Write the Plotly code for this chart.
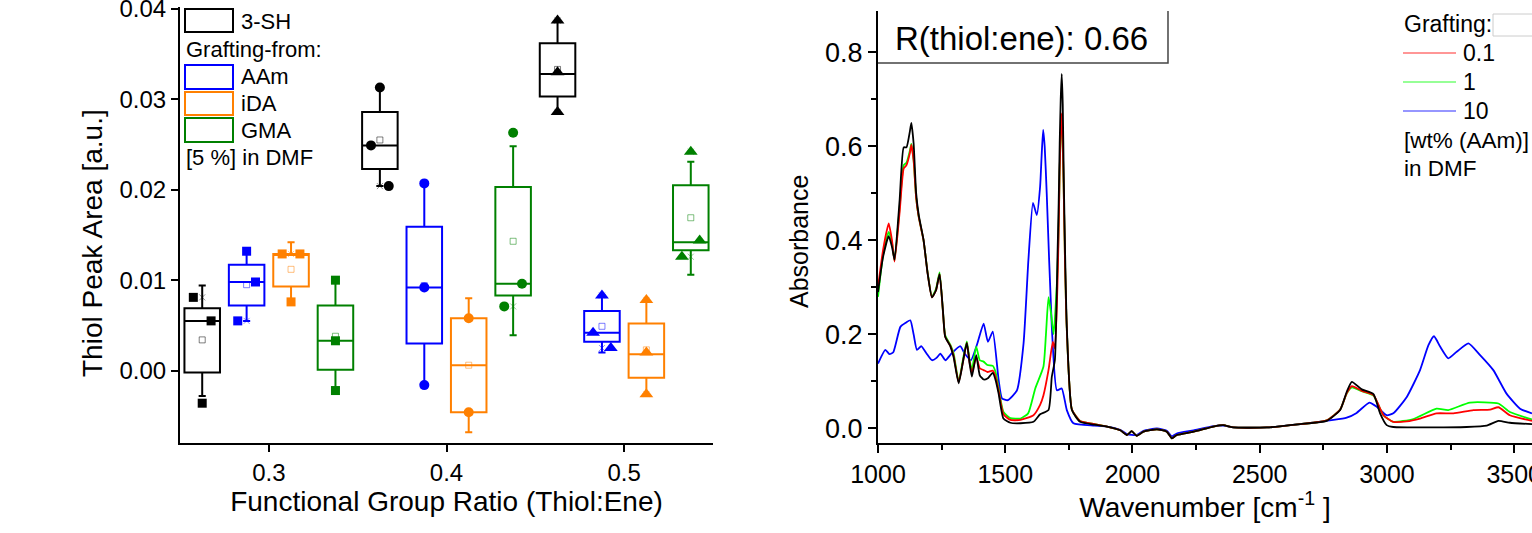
import plotly.graph_objects as go

W, H = 1532, 533

# ---------------- left panel: thiol peak area box plots ----------------
ratios = [0.3, 0.4, 0.5]
box_names = ["3-SH", "AAm", "iDA", "GMA"]

sh_q1 = [-0.0002, 0.0223, 0.0303]
sh_med = [0.0055, 0.0249, 0.0328]
sh_q3 = [0.0069, 0.0286, 0.0362]
sh_lo = [-0.0028, 0.0204, 0.0286]
sh_hi = [0.0094, 0.0313, 0.0387]
sh_mean = [0.0034, 0.0255, 0.0333]
sh_pts = [[0.0081, 0.0055, -0.0036], [0.0313, 0.0249, 0.0204], [0.0387, 0.0330, 0.0286]]

aam_q1 = [0.0072, 0.0030, 0.0032]
aam_med = [0.0098, 0.0092, 0.0042]
aam_q3 = [0.0117, 0.0159, 0.0066]
aam_lo = [0.0055, -0.0016, 0.0020]
aam_hi = [0.0132, 0.0207, 0.0083]
aam_mean = [0.0095, 0.0094, 0.0049]
aam_pts = [[0.0132, 0.0098, 0.0055], [0.0207, 0.0092, -0.0016], [0.0083, 0.0042, 0.0025]]

ida_q1 = [0.0093, -0.0046, -0.0008]
ida_med = [0.0129, 0.0006, 0.0018]
ida_q3 = [0.0129, 0.0058, 0.0052]
ida_lo = [0.0076, -0.0068, -0.0026]
ida_hi = [0.0142, 0.0080, 0.0078]
ida_mean = [0.0112, 0.0006, 0.0023]
ida_pts = [[0.0129, 0.0129, 0.0076], [0.0058, -0.0046], [0.0078, 0.0020, -0.0026]]

gma_q1 = [0.0001, 0.0083, 0.0133]
gma_med = [0.0033, 0.0096, 0.0142]
gma_q3 = [0.0072, 0.0203, 0.0205]
gma_lo = [-0.0022, 0.0039, 0.0106]
gma_hi = [0.0100, 0.0248, 0.0231]
gma_mean = [0.0038, 0.0143, 0.0169]
gma_pts = [[0.0100, 0.0033, -0.0022], [0.0263, 0.0096, 0.0071], [0.0242, 0.0144, 0.0126]]

# ---------------- right panel: FTIR spectra ----------------
black_wn = [1000, 1020, 1042, 1055, 1065, 1085, 1101, 1112, 1125, 1131, 1140, 1150, 1160, 1179, 1195,
            1212, 1228, 1242, 1255, 1264, 1284, 1297, 1317, 1335, 1349, 1360, 1369, 1386, 1400, 1415,
            1430, 1451, 1462, 1474, 1493, 1520, 1560, 1611, 1637, 1670, 1683, 1695, 1705, 1710, 1714, 1718, 1722,
            1726, 1730, 1735, 1742, 1762, 1794, 1850, 1900, 1952, 1978, 1997, 2017, 2043, 2096, 2135, 2155, 2174,
            2240, 2318, 2357, 2397, 2528, 2659, 2763, 2816, 2842, 2862, 2901, 2947, 2973, 2999, 3025,
            3182, 3313, 3392, 3438, 3483, 3570]
black_abs = [0.290, 0.365, 0.409, 0.386, 0.359, 0.486, 0.598, 0.598, 0.631, 0.650, 0.606, 0.500, 0.454, 0.401, 0.330,
             0.279, 0.294, 0.328, 0.252, 0.195, 0.175, 0.152, 0.096, 0.145, 0.182, 0.138, 0.110, 0.156, 0.113, 0.104,
             0.106, 0.118, 0.103, 0.074, 0.021, 0.012, 0.011, 0.014, 0.030, 0.039, 0.110, 0.145, 0.358, 0.480, 0.606, 0.700, 0.754,
             0.690, 0.535, 0.380, 0.216, 0.039, 0.014, 0.008, 0.004, -0.004, -0.014, -0.006, -0.016, -0.007, -0.002, -0.007, -0.021, -0.014,
             -0.007, 0.004, 0.007, 0.002, 0.002, 0.009, 0.016, 0.039, 0.078, 0.099, 0.083, 0.073, 0.032, 0.007, 0.003,
             0.002, 0.003, 0.006, 0.016, 0.012, 0.009]

red_wn = [1000, 1020, 1042, 1055, 1065, 1085, 1101, 1112, 1125, 1131, 1140, 1150, 1160, 1179, 1195,
          1212, 1228, 1242, 1255, 1264, 1284, 1297, 1317, 1335, 1349, 1360, 1369, 1386, 1400, 1415,
          1430, 1451, 1462, 1474, 1493, 1520, 1560, 1611, 1637, 1650, 1670, 1687, 1695, 1705, 1710, 1714, 1718, 1722,
          1726, 1730, 1735, 1742, 1762, 1794, 1850, 1900, 1952, 1978, 1997, 2017, 2043, 2096, 2135, 2155, 2174,
          2240, 2318, 2357, 2397, 2528, 2659, 2763, 2816, 2842, 2862, 2901, 2947, 2986, 3025, 3078,
          3130, 3195, 3261, 3340, 3405, 3438, 3483, 3570]
red_abs = [0.300, 0.380, 0.436, 0.400, 0.355, 0.460, 0.553, 0.560, 0.585, 0.603, 0.570, 0.490, 0.450, 0.400, 0.330,
           0.279, 0.294, 0.328, 0.250, 0.195, 0.176, 0.155, 0.098, 0.145, 0.182, 0.140, 0.118, 0.152, 0.128, 0.124,
           0.120, 0.123, 0.110, 0.080, 0.030, 0.018, 0.018, 0.028, 0.050, 0.070, 0.124, 0.184, 0.170, 0.300, 0.420, 0.550, 0.630, 0.670,
           0.610, 0.500, 0.350, 0.210, 0.040, 0.016, 0.009, 0.004, -0.004, -0.014, -0.006, -0.016, -0.007, -0.002, -0.007, -0.021, -0.014,
           -0.007, 0.004, 0.007, 0.002, 0.002, 0.009, 0.017, 0.040, 0.075, 0.090, 0.080, 0.071, 0.028, 0.014, 0.015,
           0.021, 0.032, 0.032, 0.039, 0.040, 0.045, 0.028, 0.016]

green_wn = [1000, 1020, 1042, 1055, 1065, 1085, 1101, 1112, 1125, 1131, 1140, 1150, 1160, 1179, 1195,
            1212, 1228, 1242, 1255, 1264, 1284, 1297, 1317, 1335, 1349, 1360, 1369, 1386, 1400, 1415,
            1430, 1451, 1462, 1474, 1493, 1520, 1560, 1590, 1618, 1650, 1660, 1670, 1680, 1690, 1705, 1710, 1714, 1718, 1722,
            1726, 1730, 1735, 1742, 1762, 1794, 1850, 1900, 1952, 1978, 1997, 2017, 2043, 2096, 2135, 2155, 2174,
            2240, 2318, 2357, 2397, 2528, 2659, 2763, 2816, 2842, 2862, 2901, 2947, 2986, 3025, 3104,
            3195, 3241, 3326, 3438, 3483, 3570]
green_abs = [0.280, 0.370, 0.418, 0.395, 0.357, 0.470, 0.560, 0.565, 0.590, 0.605, 0.570, 0.490, 0.450, 0.400, 0.332,
             0.280, 0.297, 0.332, 0.250, 0.198, 0.178, 0.160, 0.100, 0.150, 0.185, 0.145, 0.125, 0.174, 0.145, 0.142,
             0.135, 0.133, 0.120, 0.085, 0.035, 0.022, 0.021, 0.032, 0.085, 0.131, 0.200, 0.279, 0.245, 0.200, 0.330, 0.430, 0.550, 0.625, 0.665,
             0.605, 0.500, 0.350, 0.210, 0.040, 0.016, 0.009, 0.004, -0.004, -0.014, -0.006, -0.016, -0.007, -0.002, -0.007, -0.021, -0.014,
             -0.007, 0.004, 0.007, 0.002, 0.002, 0.009, 0.017, 0.040, 0.074, 0.087, 0.079, 0.070, 0.028, 0.014, 0.020,
             0.042, 0.039, 0.055, 0.053, 0.035, 0.019]

blue_wn = [1000, 1029, 1045, 1060, 1088, 1110, 1127, 1140, 1153, 1170, 1190, 1212, 1230, 1245, 1265,
           1290, 1323, 1340, 1365, 1390, 1415, 1432, 1451, 1474, 1487, 1510, 1546, 1572, 1591, 1609,
           1624, 1637, 1643, 1649, 1655, 1663, 1683, 1703, 1722, 1742, 1768, 1850, 1900, 1952, 1978, 2017, 2043,
           2096, 2135, 2155, 2174, 2240, 2318, 2357, 2397, 2528, 2659, 2790, 2842, 2881, 2931, 2960,
           2999, 3025, 3078, 3130, 3163, 3185, 3209, 3241, 3274, 3320, 3366, 3418, 3470, 3523, 3570]
blue_abs = [0.138, 0.167, 0.158, 0.162, 0.216, 0.225, 0.230, 0.200, 0.167, 0.175, 0.160, 0.145, 0.150, 0.159, 0.145,
            0.160, 0.175, 0.160, 0.145, 0.180, 0.223, 0.184, 0.206, 0.103, 0.064, 0.060, 0.081, 0.181, 0.358, 0.480,
            0.454, 0.514, 0.580, 0.635, 0.600, 0.500, 0.216, 0.081, 0.085, 0.039, 0.011, 0.006, 0.004, -0.003, -0.012, -0.014, -0.005,
            0.000, -0.005, -0.017, -0.011, -0.004, 0.005, 0.006, 0.002, 0.002, 0.009, 0.018, 0.023, 0.033, 0.055, 0.046,
            0.028, 0.032, 0.067, 0.124, 0.177, 0.196, 0.174, 0.149, 0.163, 0.181, 0.156, 0.124, 0.074, 0.042, 0.032]

spectra_labels = ["0.1", "1", "10"]
annotation_text = "R(thiol:ene): 0.66"

# ---------------- styling / layout constants ----------------
FONT = "Liberation Sans, Arial, sans-serif"
box_colors = {"3-SH": "#000000", "AAm": "#0000FF", "iDA": "#FF8000", "GMA": "#008000"}
box_offsets = {"3-SH": -0.0375, "AAm": -0.0125, "iDA": 0.0125, "GMA": 0.0375}
ratio_symbols = ["square", "circle", "triangle-up"]
ratio_sizes = [9, 10, 12]
# horizontal jitter of the individual points (axis units)
point_jitter = {
    "3-SH": [[-0.005, 0.005, 0.0], [0.0, -0.005, 0.005], [0.0, 0.0, 0.0]],
    "AAm": [[0.0, 0.005, -0.005], [0.0, 0.0, 0.0], [0.0, -0.005, 0.005]],
    "iDA": [[-0.005, 0.005, 0.0], [0.0, 0.0], [0.0, 0.0, 0.0]],
    "GMA": [[0.0, 0.0, 0.0], [0.0, 0.005, -0.005], [0.0, 0.005, -0.005]],
}

stats = {
    "3-SH": (sh_q1, sh_med, sh_q3, sh_lo, sh_hi, sh_mean, sh_pts),
    "AAm": (aam_q1, aam_med, aam_q3, aam_lo, aam_hi, aam_mean, aam_pts),
    "iDA": (ida_q1, ida_med, ida_q3, ida_lo, ida_hi, ida_mean, ida_pts),
    "GMA": (gma_q1, gma_med, gma_q3, gma_lo, gma_hi, gma_mean, gma_pts),
}


def hex_rgba(h, a):
    h = h.lstrip("#")
    return "rgba(%d,%d,%d,%.2f)" % (int(h[0:2], 16), int(h[2:4], 16), int(h[4:6], 16), a)


fig = go.Figure()

for name in box_names:
    q1, med, q3, lo, hi, mean, pts = stats[name]
    col = box_colors[name]
    xs = [r + box_offsets[name] for r in ratios]
    fig.add_trace(go.Box(
        x=xs, q1=q1, median=med, q3=q3, lowerfence=lo, upperfence=hi,
        width=0.02, whiskerwidth=0.2, boxpoints=False,
        line=dict(color=col, width=2), fillcolor="rgba(0,0,0,0)",
        xaxis="x", yaxis="y", name=name, showlegend=False,
    ))
    # min / max crosses
    cx, cy = [], []
    for i, p in enumerate(pts):
        cx += [xs[i], xs[i]]
        cy += [min(p), max(p)]
    fig.add_trace(go.Scatter(
        x=cx, y=cy, mode="markers", xaxis="x", yaxis="y", showlegend=False,
        marker=dict(symbol="x-thin", size=6, line=dict(color=hex_rgba(col, 0.45), width=1)),
    ))
    # mean (hollow small square)
    fig.add_trace(go.Scatter(
        x=xs, y=mean, mode="markers", xaxis="x", yaxis="y", showlegend=False,
        marker=dict(symbol="square-open", size=6, color=hex_rgba(col, 0.5), line=dict(width=1)),
    ))
    # individual data points
    for i, p in enumerate(pts):
        jit = point_jitter[name][i]
        fig.add_trace(go.Scatter(
            x=[xs[i] + j for j in jit], y=p, mode="markers", xaxis="x", yaxis="y", showlegend=False,
            marker=dict(symbol=ratio_symbols[i], size=ratio_sizes[i], color=col,
                        line=dict(width=0)),
        ))

spectra = [
    (blue_wn, blue_abs, "#0000FF", "10"),
    (green_wn, green_abs, "#00FF00", "1"),
    (red_wn, red_abs, "#FF0000", "0.1"),
    (black_wn, black_abs, "#000000", "3-SH"),
]
for wn, ab, col, nm in spectra:
    fig.add_trace(go.Scatter(
        x=wn, y=ab, mode="lines", xaxis="x2", yaxis="y2", name=nm, showlegend=False,
        line=dict(color=col, width=1.8, shape="spline", smoothing=0.5),
    ))


def px(xp):
    return xp / W


def py(yp):
    return 1 - yp / H


axis_common = dict(showline=True, linecolor="black", linewidth=2, ticks="outside",
                   tickcolor="black", tickwidth=2, showgrid=False, zeroline=False, mirror=False,
                   automargin=False, ticklabeloverflow="allow")

fig.update_layout(
    width=W, height=H, margin=dict(l=0, r=0, t=0, b=0),
    paper_bgcolor="white", plot_bgcolor="white", showlegend=False, boxmode="overlay",
    font=dict(family=FONT, color="black"),
    xaxis=dict(domain=[px(180), px(713)], range=[0.25, 0.55], tickvals=ratios,
               ticktext=["%.1f" % r for r in ratios], ticklen=7,
               tickfont=dict(size=24), anchor="y",
               title=dict(text="Functional Group Ratio (Thiol:Ene)", font=dict(size=28), standoff=6),
               **axis_common),
    yaxis=dict(domain=[py(443), py(7)], range=[-0.0080, 0.0402], tick0=0, dtick=0.01,
               tickformat=".2f", ticklen=7, tickfont=dict(size=24), anchor="x",
               **axis_common),
    xaxis2=dict(domain=[px(878), 1.0], range=[1000, 3570], tick0=1000, dtick=500, ticklen=8,
                tickfont=dict(size=25), anchor="y2",
                minor=dict(dtick=250, ticks="outside", ticklen=5, tickwidth=2, tickcolor="black"),
                title=dict(text="Wavenumber [cm<sup>-1</sup> ]", font=dict(size=28), standoff=4),
                **axis_common),
    yaxis2=dict(domain=[py(442.5), py(11)], range=[-0.030, 0.888], tick0=0, dtick=0.2,
                tickformat=".1f", ticklen=8, tickfont=dict(size=27), anchor="x2",
                minor=dict(dtick=0.1, ticks="outside", ticklen=5, tickwidth=2, tickcolor="black"),
                **axis_common),
)

shapes = []
annotations = []

# y-axis titles
annotations.append(dict(text="Thiol Peak Area [a.u.]", x=px(92), y=py(243), xref="paper", yref="paper",
                        xanchor="center", yanchor="middle", textangle=-90, showarrow=False,
                        font=dict(size=28)))
annotations.append(dict(text="Absorbance", x=px(799), y=py(242), xref="paper", yref="paper",
                        xanchor="center", yanchor="middle", textangle=-90, showarrow=False,
                        font=dict(size=25)))

# left legend
leg_rows = [("3-SH", 9, 32, 21), ("AAm", 65, 89, 77), ("iDA", 92, 115, 103.5), ("GMA", 118, 142, 130)]
for nm, y0, y1, yc in leg_rows:
    shapes.append(dict(type="rect", xref="paper", yref="paper", x0=px(185), x1=px(233),
                       y0=py(y1), y1=py(y0), line=dict(color=box_colors[nm], width=2),
                       fillcolor="rgba(0,0,0,0)"))
    annotations.append(dict(text=nm, x=px(239), y=py(yc), xref="paper", yref="paper",
                            xanchor="left", yanchor="middle", showarrow=False, font=dict(size=22)))
annotations.append(dict(text="Grafting-from:", x=px(184), y=py(50), xref="paper", yref="paper",
                        xanchor="left", yanchor="middle", showarrow=False, font=dict(size=22)))
annotations.append(dict(text="[5 %] in DMF", x=px(184), y=py(158), xref="paper", yref="paper",
                        xanchor="left", yanchor="middle", showarrow=False, font=dict(size=22)))

# right panel text box
shapes.append(dict(type="path", xref="paper", yref="paper",
                   path="M %f,%f L %f,%f L %f,%f" % (px(878), py(63), px(1168), py(63), px(1168), py(11)),
                   line=dict(color="#444444", width=1.5)))
annotations.append(dict(text=annotation_text, x=px(1022), y=py(38), xref="paper", yref="paper",
                        xanchor="center", yanchor="middle", showarrow=False, font=dict(size=33)))

# right legend
annotations.append(dict(text="Grafting:", x=px(1402), y=py(24), xref="paper", yref="paper",
                        xanchor="left", yanchor="middle", showarrow=False, font=dict(size=23)))
shapes.append(dict(type="rect", xref="paper", yref="paper", x0=px(1493), x1=px(1545),
                   y0=py(36), y1=py(14), line=dict(color="#cccccc", width=1)))
leg2 = [("0.1", "#FF0000", 53), ("1", "#00FF00", 82), ("10", "#0000FF", 111)]
for lab, col, yc in leg2:
    shapes.append(dict(type="line", xref="paper", yref="paper", x0=px(1403), x1=px(1456),
                       y0=py(yc), y1=py(yc), line=dict(color=hex_rgba(col, 0.55), width=1.3)))
    annotations.append(dict(text=lab, x=px(1461), y=py(yc), xref="paper", yref="paper",
                            xanchor="left", yanchor="middle", showarrow=False, font=dict(size=23)))
annotations.append(dict(text="[wt% (AAm)]", x=px(1402), y=py(140), xref="paper", yref="paper",
                        xanchor="left", yanchor="middle", showarrow=False, font=dict(size=22.5)))
annotations.append(dict(text="in DMF", x=px(1402), y=py(168), xref="paper", yref="paper",
                        xanchor="left", yanchor="middle", showarrow=False, font=dict(size=22.5)))

fig.update_layout(shapes=shapes, annotations=annotations)
fig.write_html("out.html", config={"displayModeBar": False},
               post_script="document.body.style.margin='0';document.body.style.overflow='hidden';")
